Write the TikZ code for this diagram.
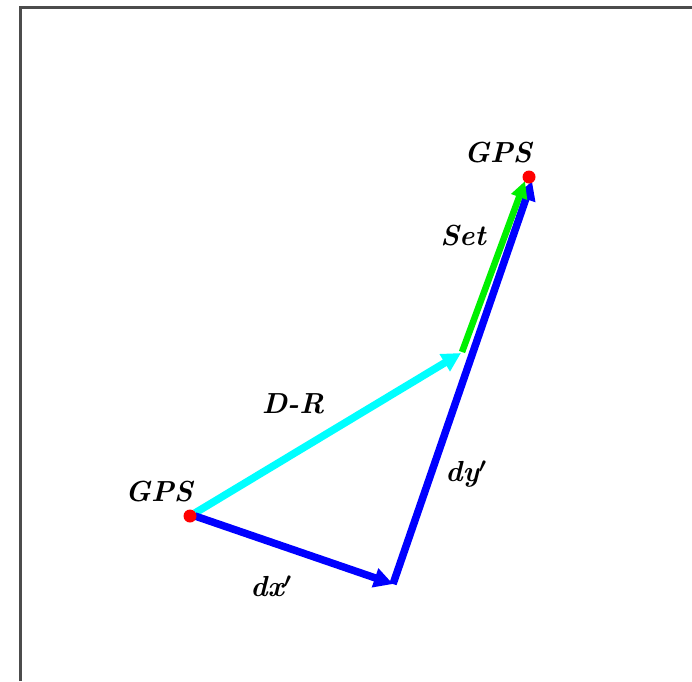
\documentclass[tikz,border=0pt]{standalone}
\usetikzlibrary{arrows.meta}
\definecolor{cy}{RGB}{0,255,255}
\definecolor{gr}{RGB}{0,240,0}
\definecolor{bl}{RGB}{0,0,255}
\definecolor{rd}{RGB}{255,0,0}
\begin{document}
\begin{tikzpicture}[x=1pt,y=-1pt,
  vec/.style={line width=7.5pt,-{Triangle[length=19pt,width=19pt]}},
  dot/.style={circle,fill=rd,inner sep=0pt,minimum size=13pt},
  lbl/.style={font=\fontsize{29}{32}\selectfont\bfseries\itshape\boldmath,inner sep=0pt}]
\useasboundingbox (0,0) rectangle (692,681);
\draw[line width=3pt,draw=black!70] (20.5,681) -- (20.5,7.5) -- (692,7.5);
\coordinate (g1c) at (190,516);
\coordinate (c) at (461,353);
\coordinate (b) at (393,584);
\coordinate (s1) at (462,352);
\coordinate (s2) at (525,181);
\coordinate (t2) at (532,181);
\draw[vec,draw=cy,fill=cy] (195,513) -- (c);
\draw[vec,draw=bl,fill=bl] (195,516) -- (b);
\draw[vec,draw=bl,fill=bl] (b) -- (t2);
\draw[line width=6.5pt,draw=gr,-{Triangle[length=17pt,width=16pt]}] (s1) -- (s2);
\node[dot] (g1) at (g1c) {};
\node[dot] (g2) at (529,177) {};
\node[lbl] (l1) at (159,492) {GPS};
\node[lbl] (l2) at (498,153) {GPS};
\node[lbl] (ls) at (463,236) {Set};
\node[lbl] (ld) at (293,404) {D-R};
\node[lbl] (ly) at (466,474) {dy$'$};
\node[lbl] (lx) at (271,586) {dx$'$};
\end{tikzpicture}
\end{document}
